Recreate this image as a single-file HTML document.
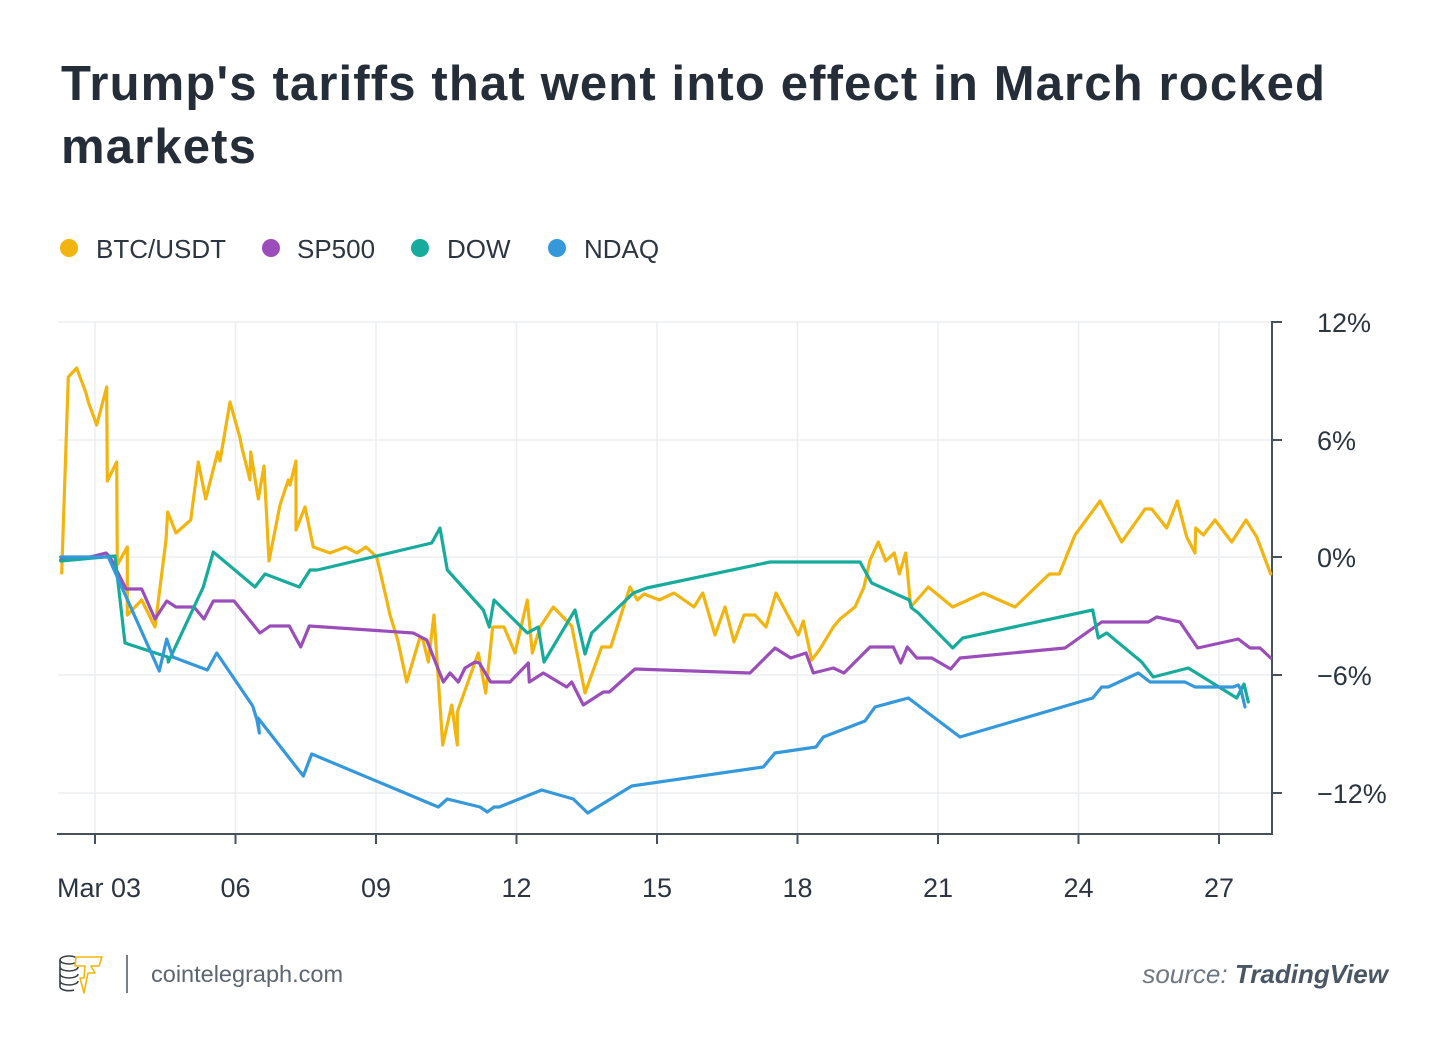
<!DOCTYPE html>
<html>
<head>
<meta charset="utf-8">
<style>
  html, body { margin: 0; padding: 0; background: #ffffff; }
  body { width: 1450px; height: 1054px; overflow: hidden; }
  svg { display: block; }
  text { font-family: "Liberation Sans", sans-serif; }
</style>
</head>
<body>
<svg width="1450" height="1054" viewBox="0 0 1450 1054" xmlns="http://www.w3.org/2000/svg">
  <rect width="1450" height="1054" fill="#ffffff"/>

  <!-- Title -->
  <text x="61" y="100" font-size="49" font-weight="bold" fill="#252e38" letter-spacing="1.15">Trump's tariffs that went into effect in March rocked</text>
  <text x="61" y="163" font-size="49" font-weight="bold" fill="#252e38" letter-spacing="1.15">markets</text>

  <!-- Legend -->
  <g font-size="26" fill="#2d3640">
    <circle cx="69" cy="248" r="9" fill="#f2b50f"/>
    <text x="96" y="258">BTC/USDT</text>
    <circle cx="271" cy="248" r="9" fill="#9b4dba"/>
    <text x="297" y="258">SP500</text>
    <circle cx="420" cy="248" r="9" fill="#17ab9b"/>
    <text x="447" y="258">DOW</text>
    <circle cx="557" cy="248" r="9" fill="#3498db"/>
    <text x="584" y="258">NDAQ</text>
  </g>

  <!-- Grid -->
  <g stroke="#ecedf0" stroke-width="1.5">
    <line x1="58" y1="322" x2="1272" y2="322"/>
    <line x1="58" y1="440" x2="1272" y2="440"/>
    <line x1="58" y1="557" x2="1272" y2="557"/>
    <line x1="58" y1="675" x2="1272" y2="675"/>
    <line x1="58" y1="793" x2="1272" y2="793"/>
    <line x1="95" y1="322" x2="95" y2="834"/>
    <line x1="235.5" y1="322" x2="235.5" y2="834"/>
    <line x1="376" y1="322" x2="376" y2="834"/>
    <line x1="516.5" y1="322" x2="516.5" y2="834"/>
    <line x1="657" y1="322" x2="657" y2="834"/>
    <line x1="797.5" y1="322" x2="797.5" y2="834"/>
    <line x1="938" y1="322" x2="938" y2="834"/>
    <line x1="1078.5" y1="322" x2="1078.5" y2="834"/>
    <line x1="1219" y1="322" x2="1219" y2="834"/>
  </g>

  <!-- Axes -->
  <g stroke="#46515c" stroke-width="2" fill="none">
    <line x1="57" y1="834" x2="1273" y2="834"/>
    <line x1="1272" y1="321" x2="1272" y2="835"/>
    <line x1="1272" y1="322" x2="1282" y2="322"/>
    <line x1="1272" y1="440" x2="1282" y2="440"/>
    <line x1="1272" y1="557" x2="1282" y2="557"/>
    <line x1="1272" y1="675" x2="1282" y2="675"/>
    <line x1="1272" y1="793" x2="1282" y2="793"/>
    <line x1="95" y1="834" x2="95" y2="844"/>
    <line x1="235.5" y1="834" x2="235.5" y2="844"/>
    <line x1="376" y1="834" x2="376" y2="844"/>
    <line x1="516.5" y1="834" x2="516.5" y2="844"/>
    <line x1="657" y1="834" x2="657" y2="844"/>
    <line x1="797.5" y1="834" x2="797.5" y2="844"/>
    <line x1="938" y1="834" x2="938" y2="844"/>
    <line x1="1078.5" y1="834" x2="1078.5" y2="844"/>
    <line x1="1219" y1="834" x2="1219" y2="844"/>
  </g>

  <!-- Y labels -->
  <g font-size="27" fill="#2d3640">
    <text x="1317" y="332">12%</text>
    <text x="1317" y="450">6%</text>
    <text x="1317" y="567">0%</text>
    <text x="1317" y="685">−6%</text>
    <text x="1317" y="803">−12%</text>
  </g>

  <!-- X labels -->
  <g font-size="27" fill="#2d3640" text-anchor="middle">
    <text x="99" y="897">Mar 03</text>
    <text x="235.5" y="897">06</text>
    <text x="376" y="897">09</text>
    <text x="516.5" y="897">12</text>
    <text x="657" y="897">15</text>
    <text x="797.5" y="897">18</text>
    <text x="938" y="897">21</text>
    <text x="1078.5" y="897">24</text>
    <text x="1219" y="897">27</text>
  </g>

  <!-- Series -->
  <g fill="none" stroke-width="3.2" stroke-linejoin="round" stroke-linecap="round">
    <polyline stroke="#f2b50f" points="61.7,573 68.3,377 76.7,368 86,393 88.3,402 96.7,425 106.7,387 107.3,481 116.7,462 117.3,565 127.3,547 127.3,615 141.7,600 155,627 166,540 167.7,512 176,533 190.7,520 198.3,462 205.7,499 217.7,452 220,461 230,402 240,438 241.7,447 250,480 250.7,452 258.3,499 264,466 269,561 280,505 288.3,480 290,485 296,461 296,530 305,507 313.3,547 330,553 345.7,547 356.7,553 366,547 376.7,557 386.7,600 390,615 397.7,640 406.7,682 420,637 423,640 428.3,662 434,615 442.7,745 451.7,705 457.3,745 457.3,712 478.3,653 485.7,693 492.7,627 504,627 515,653 527.3,600 532.3,653 540,627 553.3,607 571.7,626 585,693 601.7,647 610.7,647 630,587 637.3,600 644,594 659.3,600 674,593 694,607 702.7,593 715,635 725,607 734,642 744,615 755,615 766,627 776,593 798.3,635 803.3,621 811.7,660 820,649 833.3,627 840,619 855,607 864,587 870,560 878.3,542 885.7,561 894.3,553 899.3,574 905.7,553 910.7,607 928.3,587 952.7,607 983.3,593 1015,607 1049.3,574 1059.3,574 1075,535 1100,501 1121.7,542 1145,509 1151.7,509 1166.7,528 1177.3,501 1186.7,537 1195,553 1195.7,528 1203.3,535 1215,520 1231.7,542 1246,520 1256.7,537 1270.7,574"/>
    <polyline stroke="#9b4dba" points="60.7,560 90,557 106,553 110,557 126,589 141.7,589 155,619 166.7,601 176,607 194,607 204,619 213.3,601 234,601 260,633 270,626 289.3,626 300.7,647 309.3,626 413.3,633 426.7,640 443.3,682 450,673 458.3,682 465,668 475,662 479.3,663 490.7,682 510,682 528.3,663 529.3,682 543.3,673 566.7,687 571.7,682 583.3,705 603.3,692 609.3,692 635,669 750,673 775,648 790.7,658 806,653 813.3,673 833.3,668 844,673 870,647 893.3,647 900.7,663 907.3,647 916.7,658 931.7,658 950.7,669 960,658 1065,648 1101.7,622 1148.3,622 1156.7,617 1180,622 1197.7,648 1238.3,639 1250,648 1260,648 1270.7,658"/>
    <polyline stroke="#17ab9b" points="60.7,561 115,556 125,643 167.7,657 168.3,662 203.3,587 213.3,552 255,587 265,574 299.3,587 310,570 317.3,570 431.7,543 440,528 447.3,570 483.3,610 489.3,627 494,600 527.3,633 538.3,627 544,662 575,610 585,654 591.7,633 633.3,593 646.7,588 770,562 860,562 871.7,583 909.3,600 911.7,608 918.3,613 952.7,648 962.7,638 1092.7,610 1098.3,638 1106.7,633 1141.7,662 1153.3,677 1188.3,668 1236.7,698 1244,684 1248.3,702"/>
    <polyline stroke="#3498db" points="60.7,557 108.3,557 159.3,671 166.7,639 172.7,657 207.3,670 216.7,653 252.7,706 257,720 259.3,733 258,718 303.3,776 311.7,754 438.3,807 447.3,799 480,807 487.3,812 494,807 499.3,807 541.7,790 573.3,799 587.7,813 631.7,786 763.3,767 775,753 816,747 823.3,737 865,721 875,707 908.3,698 960,737 1092.7,698 1101.7,687 1108.3,687 1138.3,673 1150,682 1185,682 1195,687 1233.3,687 1238.3,685 1241,690 1245,707"/>
  </g>

  <!-- Footer logo -->
  <g fill="none" stroke="#3a3f45" stroke-width="1.6">
    <ellipse cx="69" cy="960" rx="9" ry="4"/>
    <path d="M60,960 v7 a9,4 0 0 0 18,0"/>
    <path d="M60,967 v7 a9,4 0 0 0 18,0"/>
    <path d="M60,974 v7 a9,4 0 0 0 18,0"/>
    <path d="M60,981 v6 a9,4 0 0 0 14,3"/>
  </g>
  <path d="M76,957 L102,957 L99,966 L91,966 L95,973 L88,973 L84,993 L80,978 L84,978 L85,966 L75,966 Z" fill="#ffffff" stroke="#f2b50f" stroke-width="1.6" stroke-linejoin="round"/>
  <line x1="127" y1="955" x2="127" y2="993" stroke="#7a7f85" stroke-width="2"/>
  <text x="151" y="982" font-size="23.5" fill="#5c6570">cointelegraph.com</text>

  <!-- Source -->
  <text x="1388" y="983" font-size="26" text-anchor="end" font-style="italic"><tspan fill="#6e7780">source: </tspan><tspan fill="#4a5663" font-weight="bold">TradingView</tspan></text>
</svg>
</body>
</html>
